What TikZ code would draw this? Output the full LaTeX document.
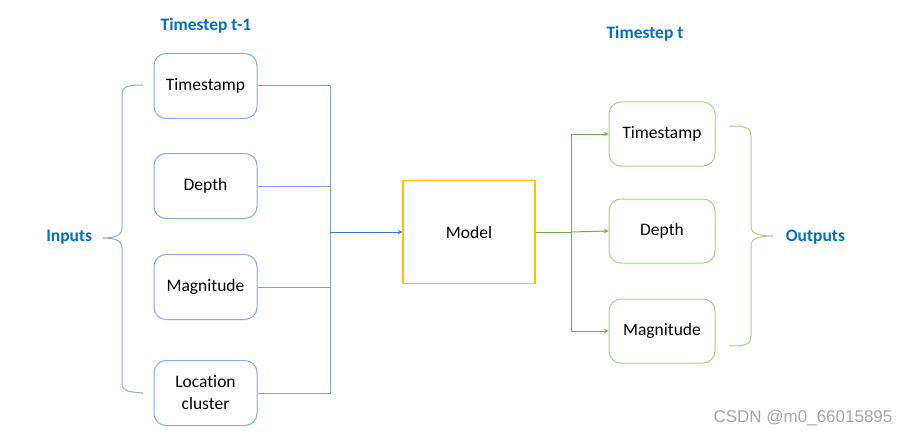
\documentclass[tikz,border=0pt]{standalone}
\usepackage{fontspec}
\setmainfont[Ligatures=NoCommon]{Carlito}
\newfontfamily\markfont{Liberation Sans}
\definecolor{inblue}{HTML}{8FAADC}
\definecolor{lineblue}{HTML}{4472C4}
\definecolor{outgreen}{HTML}{A9D18E}
\definecolor{linegreen}{HTML}{70AD47}
\definecolor{modelyellow}{HTML}{FFC000}
\definecolor{labelblue}{HTML}{0070C0}
\begin{document}
\begin{tikzpicture}[x=1pt, y=-1pt, >=stealth, line width=1pt,
    inbox/.style={draw=inblue, rounded corners=12pt, minimum width=103pt,
        minimum height=65pt, align=center, font=\fontsize{17.5}{22}\selectfont},
    outbox/.style={draw=outgreen, rounded corners=12pt, minimum width=106pt,
        minimum height=64pt, align=center, font=\fontsize{17.5}{22}\selectfont},
    tag/.style={text=labelblue, font=\fontsize{17.5}{20}\selectfont\bfseries}]

    \useasboundingbox (0,0) rectangle (906,436);

    % Judul langkah waktu
    \node[tag] (tprev) at (206,26) {Timestep t-1};
    \node[tag] (tnow) at (645,34) {Timestep t};

    % Kotak masukan
    \node[inbox] (ts1) at (205.5,86) {Timestamp};
    \node[inbox] (dp1) at (205.5,186) {Depth};
    \node[inbox] (mg1) at (205.5,287) {Magnitude};
    \node[inbox] (loc1) at (205.5,393) {Location\\cluster};

    % Model
    \node[draw=modelyellow, line width=1.2pt, minimum width=132pt, minimum height=103pt,
          font=\fontsize{17.5}{20}\selectfont] (model) at (469,232) {Model};

    % Kotak keluaran
    \node[outbox] (ts2) at (662,134) {Timestamp};
    \node[outbox] (dp2) at (662,231) {Depth};
    \node[outbox] (mg2) at (662,331) {Magnitude};

    % Jalur masukan ke model
    \coordinate (bus) at (330,232);
    \draw[inblue!80!lineblue] (ts1.east) -- (ts1.east -| bus) -- (loc1.east -| bus) -- (loc1.east);
    \draw[inblue!80!lineblue] (dp1.east) -- (dp1.east -| bus);
    \draw[inblue!80!lineblue] (mg1.east) -- (mg1.east -| bus);
    \draw[->, lineblue] (bus) -- (model.west);

    % Jalur model ke keluaran
    \coordinate (split) at (571,232);
    \draw[linegreen] (model.east) -- (split);
    \draw[->, linegreen] (split) |- (ts2.west);
    \draw[->, linegreen] (split) -- (dp2.west);
    \draw[->, linegreen] (split) |- (mg2.west);

    % Kurung kurawal
    \node[tag, anchor=east] (inputs) at (96,237) {Inputs};
    \coordinate (intip) at (103,238);
    \draw[inblue] (143,85) .. controls (128,85) and (122,86) .. (122,95)
        -- (122,228) .. controls (122,235) and (116,238) .. (intip)
        (intip) .. controls (116,238) and (122,241) .. (122,248)
        -- (122,383) .. controls (122,391) and (128,392) .. (143,393);

    \node[tag, anchor=west] (outputs) at (782,237) {Outputs};
    \coordinate (outtip) at (773,236);
    \draw[outgreen] (729,126) .. controls (745,126) and (751,127) .. (751,136)
        -- (751,226) .. controls (751,233) and (757,236) .. (outtip)
        (outtip) .. controls (757,236) and (751,239) .. (751,246)
        -- (751,336) .. controls (751,345) and (745,346) .. (729,346);

    % Tanda air
    \node[text=gray!70, font=\fontsize{17}{19}\selectfont\markfont] (mark) at (803,418) {CSDN @m0\_66015895};

\end{tikzpicture}
\end{document}
